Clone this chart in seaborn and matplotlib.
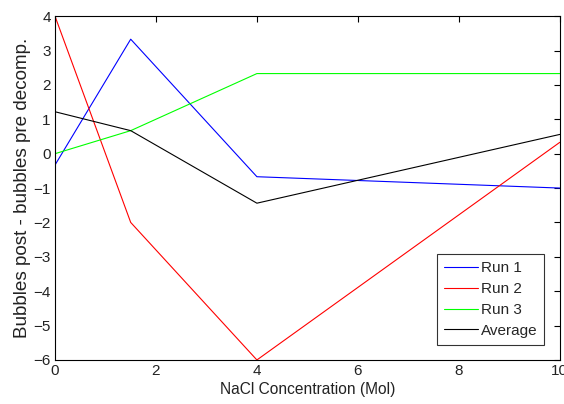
import pandas as pd
import numpy as np
import matplotlib
matplotlib.use("Agg")
import matplotlib.pyplot as plt
import seaborn as sns

# data
nacl = [0, 1.5, 4, 10]
run1 = [-0.33, 3.33, -0.67, -1.0]
run2 = [4.0, -2.0, -6.0, 0.33]
run3 = [0.0, 0.67, 2.33, 2.33]
average = [1.22, 0.67, -1.44, 0.56]

names = ["Run 1", "Run 2", "Run 3", "Average"]
colors = ["#0000ff", "#ff0000", "#00ff00", "#000000"]

rows = []
for name, vals in zip(names, [run1, run2, run3, average]):
    for x, y in zip(nacl, vals):
        rows.append({"NaCl": x, "value": y, "series": name})
df = pd.DataFrame(rows)

sns.set_theme(style="white")
plt.rcParams['font.family'] = ['Liberation Sans', 'DejaVu Sans']

fig = plt.figure(figsize=(5.64, 4.04), dpi=100)
ax = fig.add_axes([0.0975, 0.109, 0.895, 0.851])

sns.lineplot(
    data=df,
    x="NaCl",
    y="value",
    hue="series",
    hue_order=names,
    palette=colors,
    linewidth=0.8,
    ax=ax
)

ax.set_xlim(0, 10)
ax.set_ylim(-6, 4)
ax.set_xticks(range(0, 11, 2))
ax.set_yticks(range(-6, 5))
ax.tick_params(direction="in", top=True, right=True, length=4,
               width=0.8, labelsize=11, colors="black", pad=3)
for lab in ax.get_xticklabels() + ax.get_yticklabels():
    lab.set_color("#222222")
for s in ax.spines.values():
    s.set_color("black")
    s.set_linewidth(0.8)

ax.set_xlabel("NaCl Concentration (Mol)", fontsize=11.2, color="#222222", labelpad=3)
ax.set_ylabel("Bubbles post - bubbles pre decomp.", fontsize=13.6, color="#222222", labelpad=2)

leg = ax.legend(loc="lower right", fontsize=11, frameon=True, fancybox=False,
                borderaxespad=1.0, handlelength=2.2, handletextpad=0.2,
                labelspacing=0.45, borderpad=0.45)
leg.get_frame().set_edgecolor("black")
leg.get_frame().set_linewidth(0.8)
leg.set_title(None)

fig.savefig("out.png", dpi=100)
